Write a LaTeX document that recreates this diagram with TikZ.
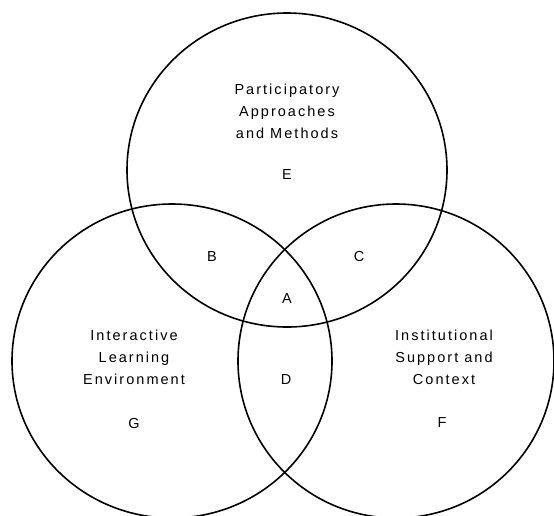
\documentclass[tikz,border=0pt]{standalone}
\usepackage{fontspec}
\setmainfont{Liberation Sans}[LetterSpace=14]
\begin{document}
\begin{tikzpicture}[x=1pt,y=-1pt,
  ring/.style={draw=black,line width=1.6pt},
  lab/.style={align=center,font=\fontsize{14.5}{22}\selectfont,inner sep=0pt}]
\useasboundingbox (0,0) rectangle (554,515);
\begin{scope}
\clip (0,0) rectangle (554,515);
\draw[ring] (287,170) ellipse [x radius=160, y radius=157];
\draw[ring] (172,361) ellipse [x radius=160, y radius=157];
\draw[ring] (396,361) ellipse [x radius=158, y radius=157];
\end{scope}
\node[lab] (top) at (287,111) {Participatory\\Approaches\\and Methods};
\node[lab] (E) at (287,175) {E};
\node[lab] (left) at (134,357) {Interactive\\Learning\\Environment};
\node[lab] (G) at (134,423) {G};
\node[lab] (right) at (444,357) {Institutional\\Support and\\Context};
\node[lab] (F) at (442,423) {F};
\node[lab] (B) at (212,257) {B};
\node[lab] (C) at (359,257) {C};
\node[lab] (A) at (287,299) {A};
\node[lab] (D) at (286,380) {D};
\end{tikzpicture}
\end{document}
